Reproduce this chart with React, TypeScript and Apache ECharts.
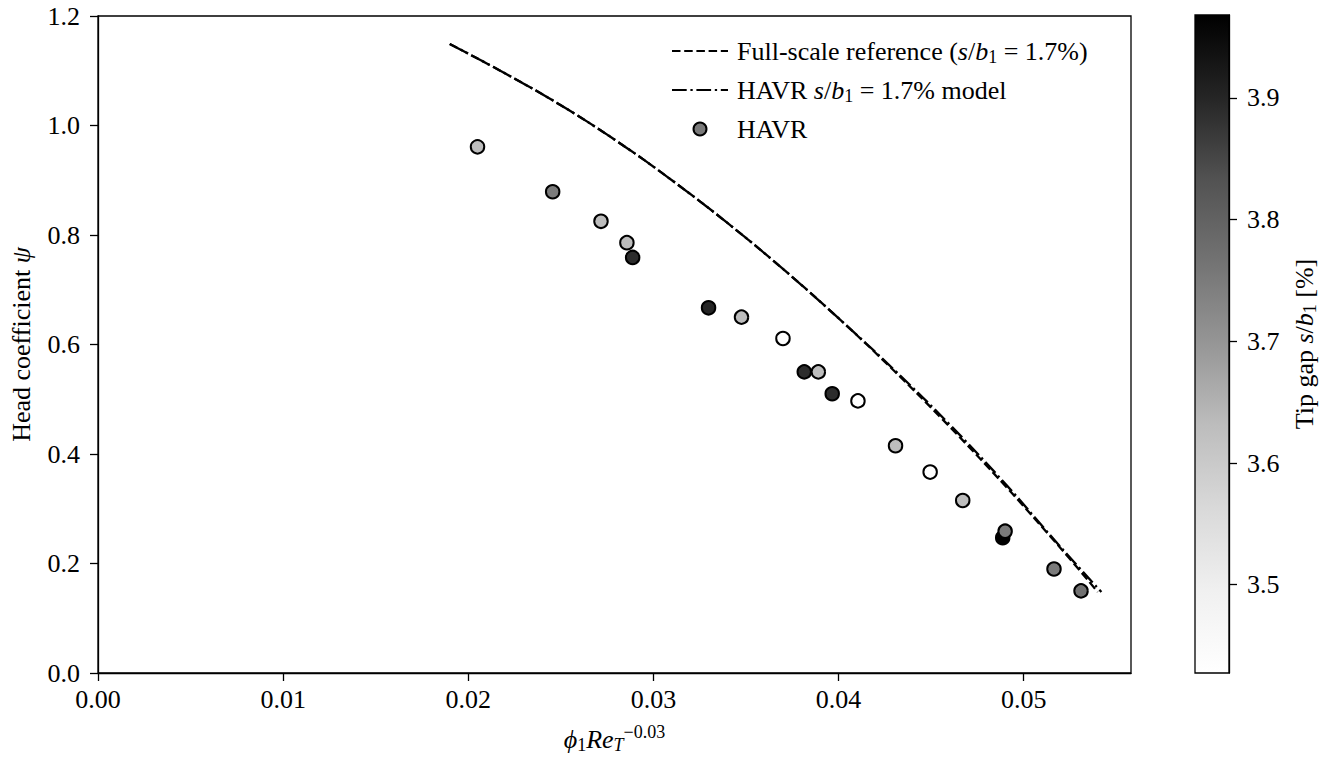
import React, { useEffect, useRef } from "react";
import * as echarts from "echarts";

// ---- data ----
const refX = [0.019, 0.022, 0.025, 0.028, 0.031, 0.034, 0.037, 0.04, 0.043, 0.046, 0.049, 0.052, 0.054];
const refY = [1.149, 1.095, 1.037, 0.972, 0.9, 0.822, 0.738, 0.648, 0.552, 0.45, 0.342, 0.228, 0.148];
const modelX = [0.019, 0.022, 0.025, 0.028, 0.031, 0.034, 0.037, 0.04, 0.043, 0.046, 0.049, 0.052, 0.0542];
const modelY = [1.149, 1.095, 1.037, 0.972, 0.9, 0.822, 0.738, 0.648, 0.554, 0.454, 0.346, 0.23, 0.148];

const havrPhi = [0.0205, 0.02456, 0.02717, 0.02857, 0.02888, 0.03298, 0.03476, 0.037, 0.03815, 0.03891, 0.03966, 0.04105, 0.04308, 0.04495, 0.04671, 0.04887, 0.049, 0.05164, 0.0531];
const havrPsi = [0.961, 0.879, 0.825, 0.786, 0.759, 0.667, 0.65, 0.611, 0.55, 0.55, 0.51, 0.497, 0.415, 0.367, 0.315, 0.247, 0.259, 0.19, 0.15];
const havrGap = [3.63, 3.75, 3.63, 3.63, 3.89, 3.9, 3.63, 3.43, 3.89, 3.63, 3.89, 3.43, 3.63, 3.43, 3.63, 3.968, 3.75, 3.75, 3.77];

const xTicks = [0, 0.01, 0.02, 0.03, 0.04, 0.05];
const yTicks = [0, 0.2, 0.4, 0.6, 0.8, 1.0, 1.2];
const cbTicks = [3.5, 3.6, 3.7, 3.8, 3.9];
const gapMin = 3.4275;
const gapMax = 3.968;

const greys = ["#ffffff", "#f0f0f0", "#d9d9d9", "#bdbdbd", "#969696", "#737373", "#525252", "#252525", "#000000"];

const SERIF = "Liberation Serif";
const FS = 26;

const rich: any = {
  t: { fontFamily: SERIF, fontSize: FS, color: "#000" },
  r: { fontFamily: SERIF, fontSize: FS, color: "#000" },
  i: { fontFamily: SERIF, fontSize: FS, fontStyle: "italic", color: "#000" },
  sub: { fontFamily: SERIF, fontSize: 18, color: "#000", padding: [12, 0, 0, 0] },
  subi: { fontFamily: SERIF, fontSize: 18, fontStyle: "italic", color: "#000", padding: [12, 0, 0, 0] },
  sup: { fontFamily: SERIF, fontSize: 18, color: "#000", padding: [0, 0, 14, 0] },
};

const NAME_REF = "Full-scale reference";
const NAME_MODEL = "HAVR model";
const NAME_HAVR = "HAVR";

export default function App() {
  const ref = useRef<HTMLDivElement>(null);

  useEffect(() => {
    if (!ref.current) return;
    const chart = echarts.init(ref.current, undefined, { renderer: "svg" });

    const gradStops = greys
      .slice()
      .reverse()
      .map((c, i) => ({ offset: i / (greys.length - 1), color: c }));

    const tickLabel = (values: number[], digits: number, margin: number) => ({
      show: true,
      margin,
      color: "#000",
      fontFamily: SERIF,
      fontSize: FS,
      rich,
      customValues: values,
      formatter: (v: number) => `{t|${Number(v).toFixed(digits)}}`,
    });
    const tick = (values: number[]) => ({
      show: true,
      length: 8,
      lineStyle: { color: "#000", width: 1.3 },
      customValues: values,
    });
    const axisLine = { show: true, onZero: false, lineStyle: { color: "#000", width: 1.3 } };

    const option: any = {
      animation: false,
      backgroundColor: "#fff",
      textStyle: { fontFamily: SERIF, color: "#000", fontSize: FS },
      grid: [
        { left: 97, top: 16, width: 1034, height: 657, show: true, borderColor: "#000", borderWidth: 1.3, backgroundColor: "transparent" },
        {
          left: 1195,
          top: 15,
          width: 34,
          height: 658,
          show: true,
          borderColor: "#000",
          borderWidth: 1.3,
          backgroundColor: new echarts.graphic.LinearGradient(0, 0, 0, 1, gradStops),
        },
      ],
      xAxis: [
        {
          type: "value",
          gridIndex: 0,
          min: 0,
          max: 0.0558,
          splitLine: { show: false },
          axisLine,
          axisTick: tick(xTicks),
          axisLabel: tickLabel(xTicks, 2, 13),
          name: "{i|ϕ}{sub|1}{i|Re}{subi|T}{sup|−0.03}",
          nameLocation: "middle",
          nameGap: 50,
          nameTextStyle: { rich },
        },
        { type: "value", gridIndex: 1, min: 0, max: 1, show: false },
      ],
      yAxis: [
        {
          type: "value",
          gridIndex: 0,
          min: 0,
          max: 1.2,
          splitLine: { show: false },
          axisLine,
          axisTick: tick(yTicks),
          axisLabel: tickLabel(yTicks, 1, 18),
          name: "{r|Head coefficient }{i|ψ}",
          nameLocation: "middle",
          nameGap: 64,
          nameRotate: 90,
          nameTextStyle: { rich },
        },
        {
          type: "value",
          gridIndex: 1,
          position: "right",
          min: gapMin,
          max: gapMax,
          splitLine: { show: false },
          axisLine,
          axisTick: tick(cbTicks),
          axisLabel: tickLabel(cbTicks, 1, 18),
          name: "{r|Tip gap }{i|s}{r|/}{i|b}{sub|1}{r| [%]}",
          nameLocation: "middle",
          nameGap: 60,
          nameRotate: 90,
          nameTextStyle: { rich },
        },
      ],
      visualMap: {
        type: "continuous",
        show: false,
        seriesIndex: 2,
        dimension: 2,
        min: gapMin,
        max: gapMax,
        inRange: { color: greys },
      },
      legend: {
        show: true,
        orient: "vertical",
        left: 666,
        top: 33,
        itemWidth: 56,
        itemHeight: 13,
        itemGap: 11,
        data: [
          { name: NAME_REF, itemStyle: { opacity: 0 } },
          { name: NAME_MODEL, itemStyle: { opacity: 0 } },
          { name: NAME_HAVR, icon: "circle" },
        ],
        textStyle: { rich, fontFamily: SERIF, fontSize: FS, color: "#000", padding: [0, 0, 0, 4] },
        formatter: (name: string) => {
          if (name === NAME_REF) return "{r|Full-scale reference (}{i|s}{r|/}{i|b}{sub|1}{r| = 1.7%)}";
          if (name === NAME_MODEL) return "{r|HAVR }{i|s}{r|/}{i|b}{sub|1}{r| = 1.7% model}";
          return "{r|HAVR}";
        },
      },
      series: [
        {
          name: NAME_REF,
          type: "line",
          xAxisIndex: 0,
          yAxisIndex: 0,
          data: refX.map((x, i) => [x, refY[i]]),
          showSymbol: false,
          symbol: "none",
          smooth: 0.4,
          lineStyle: { color: "#000", width: 2.3, type: [8.5, 3.7] },
          itemStyle: { color: "#000" },
          z: 3,
        },
        {
          name: NAME_MODEL,
          type: "line",
          xAxisIndex: 0,
          yAxisIndex: 0,
          data: modelX.map((x, i) => [x, modelY[i]]),
          showSymbol: false,
          symbol: "none",
          smooth: 0.4,
          lineStyle: { color: "#000", width: 2.3, type: [14.7, 3.7, 2.3, 3.7] },
          itemStyle: { color: "#000" },
          z: 3,
        },
        {
          name: NAME_HAVR,
          type: "scatter",
          xAxisIndex: 0,
          yAxisIndex: 0,
          data: havrPhi.map((x, i) => [x, havrPsi[i], havrGap[i]]),
          symbol: "circle",
          symbolSize: 13.5,
          itemStyle: { color: "#7a7a7a", borderColor: "#000", borderWidth: 2, opacity: 1 },
          z: 4,
        },
      ],
    };

    chart.setOption(option);
    return () => chart.dispose();
  }, []);

  return <div ref={ref} style={{ position: "fixed", left: 0, top: 0, width: 1323, height: 761, background: "#fff" }} />;
}
